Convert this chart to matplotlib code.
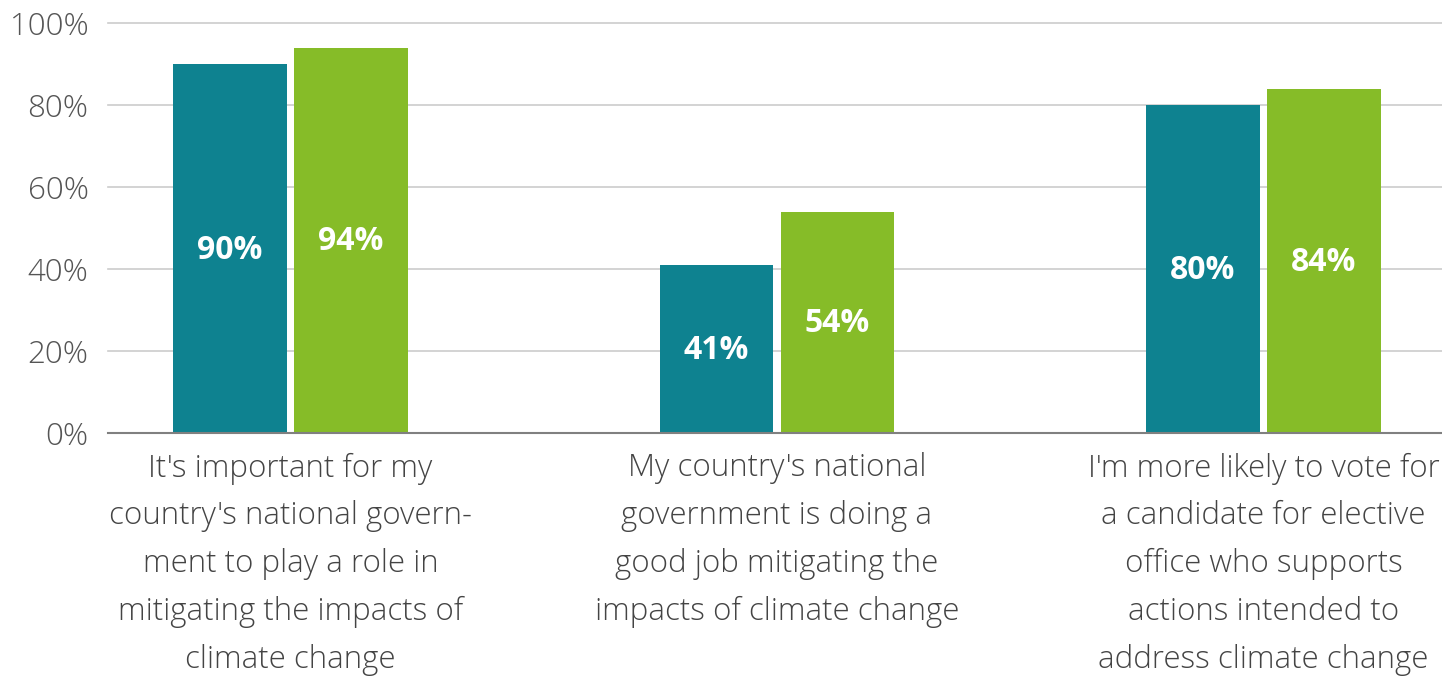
import matplotlib.pyplot as plt
import numpy as np

plt.rcParams['font.family'] = ['Open Sans', 'DejaVu Sans']

categories = [
    "It's important for my\ncountry's national govern-\nment to play a role in\nmitigating the impacts of\nclimate change",
    "My country's national\ngovernment is doing a\ngood job mitigating the\nimpacts of climate change",
    "I'm more likely to vote for\na candidate for elective\noffice who supports\nactions intended to\naddress climate change",
]
series_a = [90, 41, 80]
series_b = [94, 54, 84]
yticks = [0, 20, 40, 60, 80, 100]

teal = '#0e8290'
green = '#86bc28'
gray_text = '#555555'

fig = plt.figure(figsize=(14.42, 6.79), dpi=100)
ax = fig.add_axes([108 / 1442, (679 - 433) / 679, 1 - 108 / 1442, 410 / 679])

x = np.arange(len(categories))
w = 0.234
off = 0.1244
bars_a = ax.bar(x - off, series_a, width=w, color=teal, zorder=3)
bars_b = ax.bar(x + off, series_b, width=w, color=green, zorder=3)

for bars, vals in ((bars_a, series_a), (bars_b, series_b)):
    for b, v in zip(bars, vals):
        ax.text(b.get_x() + b.get_width() / 2, v / 2 - 0.4, f"{v}%", ha='center', va='center',
                color='white', fontsize=23, fontweight='bold', zorder=4)

ax.set_xlim(-0.375, 2.367)
ax.set_ylim(0, 100)
ax.set_yticks(yticks)
ax.set_yticklabels([f"{t}%" for t in yticks], fontsize=22.5, fontweight='light', color=gray_text)
ax.set_xticks(x)
ax.set_xticklabels(categories, fontsize=22.5, fontweight='light', color='#444444', linespacing=1.655)
ax.tick_params(axis='both', length=0)
ax.tick_params(axis='y', pad=14)
ax.tick_params(axis='x', pad=14)

ax.grid(axis='y', color='#cccccc', linewidth=1.2, zorder=0)
for gl in ax.get_ygridlines():
    gl.set_clip_on(False)
for s in ('top', 'right', 'left'):
    ax.spines[s].set_visible(False)
ax.spines['bottom'].set_color('#808080')
ax.spines['bottom'].set_linewidth(1.5)
ax.spines['bottom'].set_zorder(5)

fig.savefig('out.png', dpi=100)
